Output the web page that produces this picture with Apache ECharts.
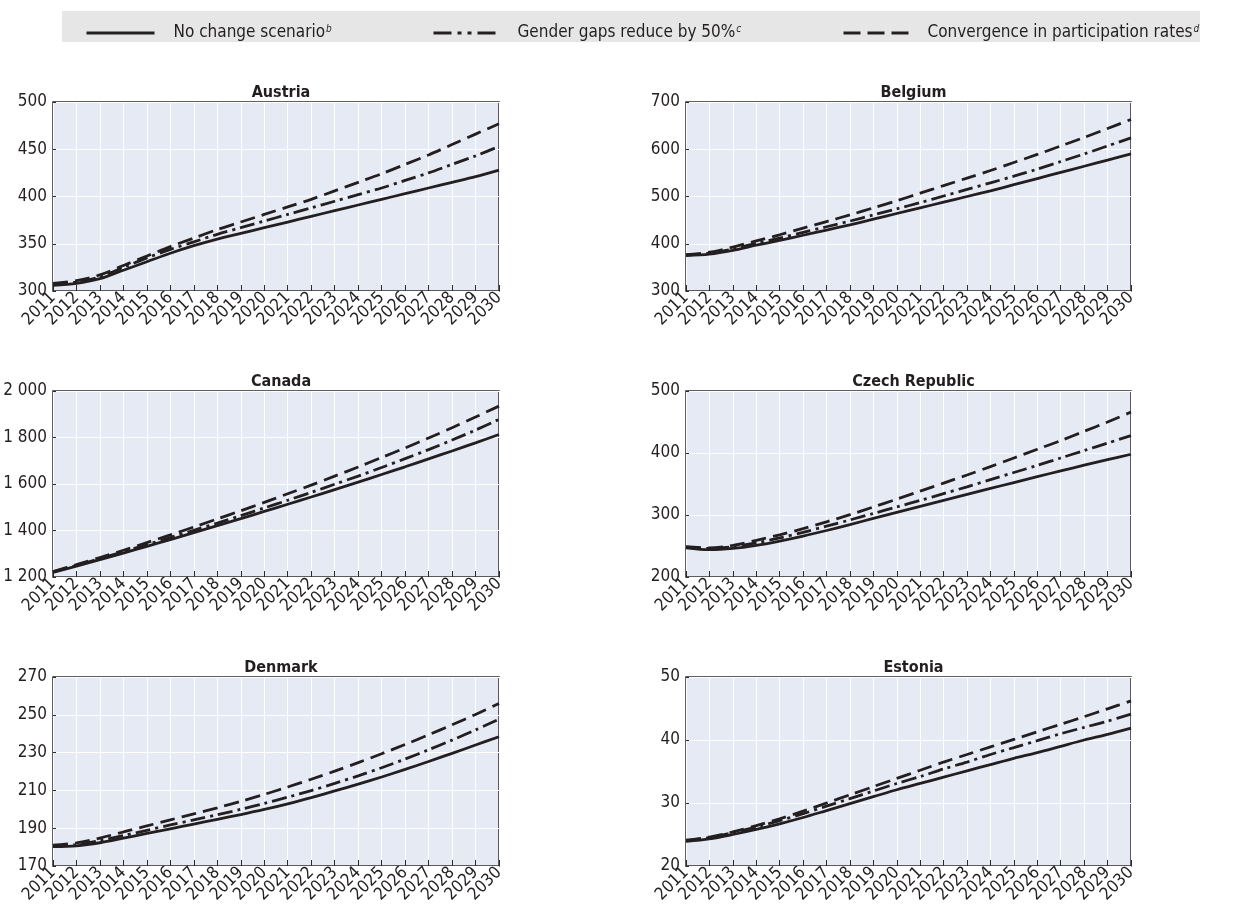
<!DOCTYPE html>
<html>
<head>
<meta charset="utf-8">
<script src="https://cdn.jsdelivr.net/npm/echarts@6/dist/echarts.min.js"></script>
<style>
html,body{margin:0;padding:0;background:#fff;}
#chart{width:1236px;height:915px;}
</style>
</head>
<body>
<div id="chart"></div>
<script>
const years = ['2011','2012','2013','2014','2015','2016','2017','2018','2019','2020','2021','2022','2023','2024','2025','2026','2027','2028','2029','2030'];
const seriesNames = ['No change scenario', 'Gender gaps reduce by 50%', 'Convergence in participation rates'];
const legendSup = ['b', 'c', 'd'];

const countries = ['Austria', 'Belgium', 'Canada', 'Czech Republic', 'Denmark', 'Estonia'];

const austriaNoChange = [306,308,313,322,331,340,348,355,361,367,373,379,385,391,397,403,409,415,421,428];
const austriaHalfGap  = [307,309.5,315,325,335,344,352,360,367,374,381,388,395,402,409,417,425,434,443,453];
const austriaConverge = [308,311,317,327,337,347,356,365,373,381,389,397,406,415,424,434,444,455,466,477];

const belgiumNoChange = [375,378,386,397,407,418,429,440,452,464,476,488,500,512,525,538,551,564,577,590];
const belgiumHalfGap  = [376,380,389,401,412,424,436,448,461,474,487,501,515,529,543,558,574,590,607,624];
const belgiumConverge = [377,382,393,406,419,433,447,461,476,491,507,523,539,555,572,589,607,625,644,663];

const canadaNoChange = [1220,1247,1275,1303,1332,1361,1391,1421,1451,1482,1513,1544,1576,1608,1641,1674,1708,1742,1777,1813];
const canadaHalfGap  = [1222,1250,1279,1309,1339,1370,1401,1432,1464,1497,1530,1564,1599,1634,1671,1709,1748,1789,1832,1878];
const canadaConverge = [1223,1253,1284,1315,1348,1381,1415,1450,1485,1521,1558,1595,1634,1673,1714,1755,1798,1842,1888,1935];

const czechNoChange = [247,244,246,251,258,266,275,284.5,294.5,304.3,314,323.6,333.2,342.8,352.3,361.8,371.2,380.3,389.2,398];
const czechHalfGap  = [248,246,249,255,263,272,282,292,302.5,313,323.5,334.5,345.5,357,368.5,380,392,404,416,428];
const czechConverge = [249,247,251,259,268,278,289,300.5,313,325.5,338.5,351.5,364.5,378,392,406,420,435,450,466];

const denmarkNoChange = [180.2,180.7,182.3,184.7,187.2,189.7,192.2,194.7,197.2,199.9,202.9,206.2,209.7,213.3,217.1,221.1,225.3,229.6,234,238.4];
const denmarkHalfGap  = [180.5,181.3,183.4,186.1,188.9,191.7,194.4,197.1,200,203.1,206.4,209.9,213.7,217.7,222,226.6,231.5,236.6,242,247.7];
const denmarkConverge = [181,182.2,184.8,188,191.2,194.4,197.6,200.8,204.2,207.9,211.8,215.9,220.2,224.7,229.4,234.3,239.4,244.7,250.2,256];

const estoniaNoChange = [23.9,24.3,25.0,25.8,26.7,27.7,28.8,29.9,31.0,32.1,33.1,34.1,35.1,36.1,37.1,38.0,39.0,40.0,40.9,41.9];
const estoniaHalfGap  = [24.0,24.5,25.3,26.2,27.2,28.3,29.5,30.7,31.9,33.1,34.2,35.4,36.5,37.7,38.8,39.9,41.0,42.0,43.0,44.1];
const estoniaConverge = [24.1,24.6,25.4,26.4,27.5,28.7,30.0,31.3,32.6,33.9,35.2,36.5,37.7,38.9,40.1,41.3,42.5,43.7,44.95,46.2];

const yMin = [300, 300, 1200, 200, 170, 20];
const yMax = [500, 700, 2000, 500, 270, 50];
const yStep = [50, 100, 200, 100, 20, 10];

const panelData = [
  [austriaNoChange, austriaHalfGap, austriaConverge],
  [belgiumNoChange, belgiumHalfGap, belgiumConverge],
  [canadaNoChange, canadaHalfGap, canadaConverge],
  [czechNoChange, czechHalfGap, czechConverge],
  [denmarkNoChange, denmarkHalfGap, denmarkConverge],
  [estoniaNoChange, estoniaHalfGap, estoniaConverge]
];

const FONT = '"Liberation Sans Narrow", "Arial Narrow", "DejaVu Sans Condensed", sans-serif';
const INK = '#231f20';
const dashTypes = ['solid', [15, 5, 3, 5], [15, 7]];

const colLeft = [53, 686];
const colWidth = [446, 445];
const rowTop = [102, 391, 677];
const rowHeight = [189, 186, 189];
const titleTop = [80, 369, 655];

const grids = [], xAxes = [], yAxes = [], series = [], titles = [];
for (let i = 0; i < 6; i++) {
  const c = i % 2, r = Math.floor(i / 2);
  grids.push({
    left: colLeft[c], top: rowTop[r], width: colWidth[c], height: rowHeight[r],
    show: true, backgroundColor: '#e6eaf5', borderColor: '#2b2b2b', borderWidth: 1.5
  });
  titles.push({
    text: countries[i], left: colLeft[c] + colWidth[c] / 2, top: titleTop[r], textAlign: 'center',
    textStyle: { fontFamily: FONT, fontWeight: 'bold', fontSize: 16, color: INK }
  });
  xAxes.push({
    type: 'category', gridIndex: i, data: years, boundaryGap: false,
    axisLine: { show: false },
    axisTick: { show: true, inside: true, length: 6, interval: 0, alignWithLabel: true, lineStyle: { color: '#2b2b2b', width: 1 } },
    splitLine: { show: true, interval: 0, lineStyle: { color: '#ffffff', width: 1 } },
    axisLabel: { interval: 0, rotate: 45, margin: 4, fontFamily: FONT, fontSize: 17, color: INK }
  });
  yAxes.push({
    type: 'value', gridIndex: i, min: yMin[i], max: yMax[i], interval: yStep[i],
    axisLine: { show: false },
    axisTick: { show: true, inside: true, length: 3, lineStyle: { color: '#2b2b2b' } },
    splitLine: { show: true, lineStyle: { color: '#ffffff', width: 1.2 } },
    axisLabel: {
      margin: 6, fontFamily: FONT, fontSize: 17, color: INK,
      formatter: v => v >= 1000 ? Math.floor(v / 1000) + ' ' + String(v % 1000).padStart(3, '0') : String(v)
    }
  });
  for (let s = 0; s < 3; s++) {
    series.push({
      type: 'line', name: seriesNames[s], xAxisIndex: i, yAxisIndex: i,
      data: panelData[i][s], symbol: 'none', smooth: 0.3,
      lineStyle: { color: INK, width: 2.8, type: dashTypes[s] },
      itemStyle: { color: INK },
      z: 3 - s
    });
  }
}

const legendLeft = [85, 432, 842];
const legendIconW = [68, 65, 65];
const legendDash = ['solid', [18, 6, 4, 6, 4, 6, 18, 20], [17, 7, 17, 7, 17, 20]];
const legends = seriesNames.map((n, k) => ({
  data: [{ name: n, itemStyle: { opacity: 0 }, lineStyle: { type: legendDash[k], width: 3 } }],
  left: legendLeft[k], top: 24, padding: 0,
  itemWidth: legendIconW[k], itemHeight: 4, itemGap: 0,
  selectedMode: false,
  itemStyle: { opacity: 0 },
  formatter: name => '{t|' + name + '}{s|' + legendSup[k] + '}',
  textStyle: {
    color: INK,
    rich: {
      t: { fontFamily: FONT, fontSize: 17, color: INK, padding: [0, 0, 0, 14] },
      s: { fontFamily: FONT, fontSize: 10, fontStyle: 'italic', color: INK, verticalAlign: 'top', padding: [0, 0, 8, 1] }
    }
  }
}));

const chart = echarts.init(document.getElementById('chart'), null, { renderer: 'canvas' });
chart.setOption({
  animation: false,
  backgroundColor: '#ffffff',
  graphic: [{
    type: 'rect', left: 62, top: 11, shape: { width: 1138, height: 31 },
    style: { fill: '#e6e6e6' }, z: -10, silent: true
  }],
  title: titles,
  legend: legends,
  grid: grids,
  xAxis: xAxes,
  yAxis: yAxes,
  series: series
});
</script>
</body>
</html>
